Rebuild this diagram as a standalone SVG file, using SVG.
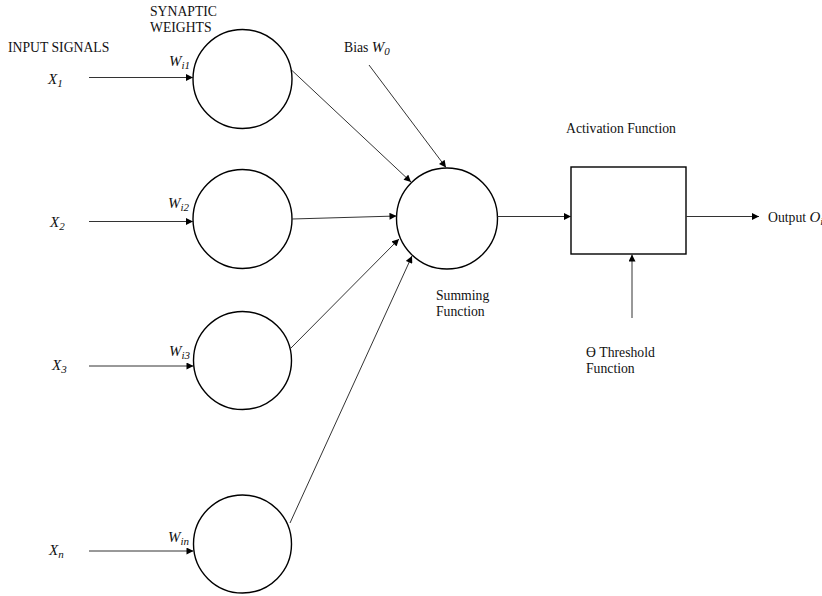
<svg xmlns="http://www.w3.org/2000/svg" width="822" height="596" viewBox="0 0 822 596">
<defs>
<marker id="ah" viewBox="0 0 10 10" refX="10" refY="5" markerWidth="8" markerHeight="7" markerUnits="userSpaceOnUse" orient="auto">
<path d="M0,0 L10,5 L0,10 Z" fill="#000"/>
</marker>
</defs>
<style>
.node{fill:#fff;stroke:#000;stroke-width:1.4}
.edge{stroke:#333;stroke-width:1;fill:none;marker-end:url(#ah)}
.lbl{font-family:"Liberation Serif","Times New Roman",serif;font-size:13.7px;fill:#111}
.math{font-family:"Liberation Serif","Times New Roman",serif;font-style:italic;font-size:15px;fill:#111}
.sub{font-size:11px}
</style>
<rect width="822" height="596" fill="#fff"/>
<g id="labels">
<text class="lbl" x="8" y="52">INPUT SIGNALS</text>
<text class="lbl" x="150" y="16">SYNAPTIC</text>
<text class="lbl" x="150" y="32">WEIGHTS</text>
<text class="lbl" x="344" y="52">Bias <tspan class="math">W<tspan class="sub" dy="3">0</tspan></tspan></text>
<text class="lbl" x="436" y="300">Summing</text>
<text class="lbl" x="436" y="316">Function</text>
<text class="lbl" x="566" y="133">Activation Function</text>
<text class="lbl" x="586" y="357">ϴ Threshold</text>
<text class="lbl" x="586" y="373">Function</text>
<text class="lbl" x="768" y="222">Output <tspan class="math">O<tspan class="sub" dy="3">i</tspan></tspan></text>
<text class="math" x="48" y="84">X<tspan class="sub" dy="3">1</tspan></text>
<text class="math" x="50" y="227">X<tspan class="sub" dy="3">2</tspan></text>
<text class="math" x="52" y="370">X<tspan class="sub" dy="3">3</tspan></text>
<text class="math" x="49" y="555">X<tspan class="sub" dy="3">n</tspan></text>
<text class="math" x="169" y="66">W<tspan class="sub" dy="3">i1</tspan></text>
<text class="math" x="168" y="208">W<tspan class="sub" dy="3">i2</tspan></text>
<text class="math" x="169" y="356">W<tspan class="sub" dy="3">i3</tspan></text>
<text class="math" x="168" y="542">W<tspan class="sub" dy="3">in</tspan></text>
</g>
<g id="w1"><circle class="node" cx="242.5" cy="79" r="49.5"/></g>
<g id="w2"><circle class="node" cx="242.5" cy="219" r="49.5"/></g>
<g id="w3"><circle class="node" cx="242.5" cy="360.5" r="49"/></g>
<g id="wn"><circle class="node" cx="242.5" cy="544" r="49"/></g>
<g id="sum"><circle class="node" cx="447" cy="218.5" r="50.5"/></g>
<g id="activation"><rect class="node" x="571" y="167" width="115" height="87"/></g>
<g id="connectors">
<line class="edge" x1="89" y1="77.5" x2="193" y2="77.5"/>
<line class="edge" x1="89" y1="221.5" x2="193" y2="221.5"/>
<line class="edge" x1="89" y1="366" x2="193.5" y2="366"/>
<line class="edge" x1="89" y1="551" x2="193.5" y2="551"/>
<line class="edge" x1="292" y1="70.5" x2="411" y2="182"/>
<line class="edge" x1="292" y1="219" x2="396.5" y2="216"/>
<line class="edge" x1="291" y1="348" x2="399" y2="239"/>
<line class="edge" x1="290" y1="523" x2="412" y2="256"/>
<line class="edge" x1="369" y1="65" x2="446" y2="167.5"/>
<line class="edge" x1="497.5" y1="216.5" x2="571" y2="216.5"/>
<line class="edge" x1="686" y1="216.5" x2="759" y2="216.5"/>
<line class="edge" x1="632" y1="318" x2="632" y2="254.5"/>
</g>
</svg>
